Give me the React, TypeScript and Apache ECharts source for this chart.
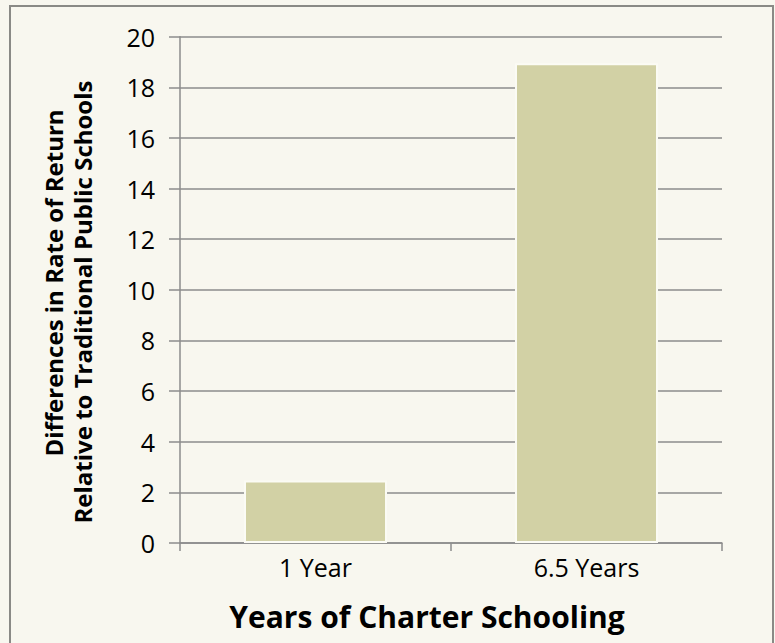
import React, { useEffect, useRef } from "react";
import * as echarts from "echarts";

const categories = ["1 Year", "6.5 Years"];
const values = [2.47, 18.95];
const yTicks = { min: 0, max: 20, interval: 2 };
const xTitle = "Years of Charter Schooling";
const yTitleLines = ["Differences in Rate of Return", "Relative to Traditional Public Schools"];

export default function App() {
  const ref = useRef<HTMLDivElement>(null);
  useEffect(() => {
    const chart = echarts.init(ref.current!, null, { renderer: "svg" });
    const font = "'Open Sans', 'Noto Sans', sans-serif";
    const titlePos = [
      { x: 53, y: 283 },
      { x: 82, y: 302 },
    ];
    chart.setOption({
      animation: false,
      backgroundColor: "#f8f7ef",
      textStyle: { fontFamily: font },
      graphic: [
        {
          type: "rect",
          shape: { x: 10, y: 6, width: 763, height: 660 },
          style: { fill: "none", stroke: "#8a8a86", lineWidth: 2 },
          silent: true,
        },
        ...yTitleLines.map((t, i) => ({
          type: "text",
          x: titlePos[i].x,
          y: titlePos[i].y,
          rotation: Math.PI / 2,
          style: {
            text: t,
            font: `bold 24px ${font}`,
            fill: "#000",
            align: "center",
            verticalAlign: "middle",
          },
        })),
      ],
      grid: { left: 180, right: 53, top: 36.7, bottom: 100, containLabel: false },
      xAxis: {
        type: "category",
        data: categories,
        name: xTitle,
        nameLocation: "middle",
        nameGap: 58,
        nameTextStyle: {
          fontSize: 30,
          fontWeight: "bold",
          color: "#000",
          fontFamily: font,
          padding: [0, 48, 0, 0],
        },
        axisLine: { lineStyle: { color: "#8c8c8c", width: 1.5 } },
        axisTick: { show: true, length: 8, alignWithLabel: false, lineStyle: { color: "#8c8c8c", width: 1.5 } },
        axisLabel: { fontSize: 25, color: "#000", margin: 11, fontFamily: font },
      },
      yAxis: {
        type: "value",
        min: yTicks.min,
        max: yTicks.max,
        interval: yTicks.interval,
        axisLine: { show: true, lineStyle: { color: "#8c8c8c", width: 1.5 } },
        axisTick: { show: true, length: 11, lineStyle: { color: "#8c8c8c", width: 1.5 } },
        axisLabel: { fontSize: 25, color: "#000", margin: 25, fontFamily: font },
        splitLine: { show: true, lineStyle: { color: "#8c8c8c", width: 1.5 } },
      },
      series: [
        {
          type: "bar",
          data: values,
          barWidth: 143,
          itemStyle: { color: "#d2d1a5", borderColor: "#fbfbf4", borderWidth: 2 },
        },
      ],
    });
    return () => chart.dispose();
  }, []);
  return (
    <div
      ref={ref}
      style={{ position: "fixed", left: 0, top: 0, width: 775, height: 643 }}
    />
  );
}
